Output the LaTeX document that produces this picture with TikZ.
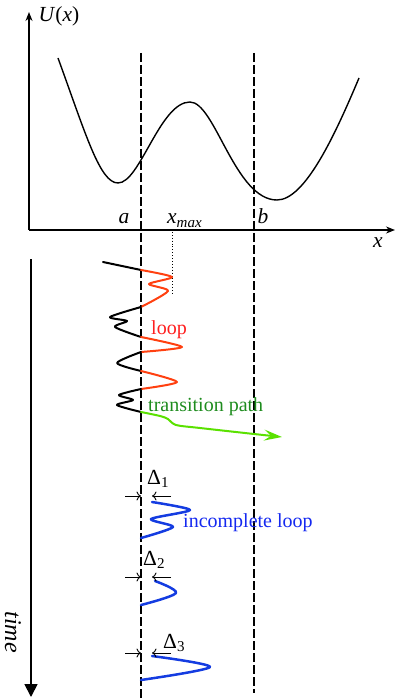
\documentclass[tikz,border=0pt]{standalone}
\usepackage{fontspec}
\setmainfont{Liberation Serif}
\usetikzlibrary{arrows.meta}
\definecolor{redtraj}{RGB}{255,64,16}
\definecolor{looptxt}{RGB}{255,30,30}
\definecolor{greentraj}{RGB}{90,225,0}
\definecolor{greentxt}{RGB}{30,140,30}
\definecolor{bluetraj}{RGB}{20,60,225}
\definecolor{bluetxt}{RGB}{20,40,240}
\begin{document}
\begin{tikzpicture}[x=1pt,y=-1pt,
  lbl/.style={font=\fontsize{20}{22}\selectfont, inner sep=0pt},
  big/.style={font=\fontsize{21.5}{24}\selectfont, inner sep=0pt},
  dashln/.style={line width=1.1pt, dash pattern=on 9pt off 3pt},
  axis/.style={line width=1.4pt, -{Stealth[length=9pt,width=7pt]}},
  pot/.style={line width=1.4pt},
  traj/.style={line width=2pt, line join=round, line cap=round},
  blu/.style={line width=2.5pt, line join=round, line cap=round, bluetraj},
  darr/.style={line width=0.9pt, -{To[length=4.5pt,width=9pt]}}]
\useasboundingbox (0,0) rectangle (396,700);
% axes
\coordinate (O) at (29,230);
\coordinate (ytop) at (29,12);
\coordinate (xend) at (395,230);
\draw[axis] (O) -- (ytop);
\draw[axis] (O) -- (xend);
\node[big] (U) at (59,16) {\textit{U}(\textit{x})};
\node[big] (xl) at (378,243) {\textit{x}};
% dashed lines
\coordinate (a1) at (141,53); \coordinate (a2) at (141,700);
\coordinate (b1) at (254,53); \coordinate (b2) at (254,693);
\draw[dashln] (a1) -- (a2);
\draw[dashln] (b1) -- (b2);
\node[big, anchor=base] (al) at (124,224) {\textit{a}};
\node[big, anchor=base] (bl) at (263,224) {\textit{b}};
\node[big, anchor=base west] (xm) at (167,224) {\textit{x}{\fontsize{15}{15}\selectfont\raisebox{-4pt}{\textit{max}}}};
\coordinate (d1) at (172,232); \coordinate (d2) at (172,293);
\draw[dotted, line width=0.9pt] (d1) -- (d2);
% potential
\draw[pot] (58,58) .. controls (86,135) and (100,183) .. (118,183)
  .. controls (140,183) and (160,102) .. (190,102)
  .. controls (215,102) and (235,200) .. (277,200)
  .. controls (305,200) and (335,135) .. (359,78);
% time arrow
\coordinate (t1) at (31,259); \coordinate (t2) at (31,697);
\draw[line width=1.8pt, -{Triangle[length=13pt,width=13pt]}] (t1) -- (t2);
\node[lbl, rotate=-90, font=\fontsize{24}{26}\selectfont\itshape] (time) at (13,632) {time};
% trajectory
\draw[traj] (103,262) -- (141,270);
\draw[traj, redtraj] plot[smooth, tension=0.45] coordinates {(141,270) (172,277) (149,284) (168,291) (141,307)};
\draw[traj] plot[smooth, tension=0.45] coordinates {(141,307) (110,317) (127,321) (115,327) (141,337)};
\draw[traj, redtraj] plot[smooth, tension=0.45] coordinates {(141,337) (182,347) (141,352)};
\draw[traj] plot[smooth, tension=0.45] coordinates {(141,352) (117,363) (141,371)};
\draw[traj, redtraj] plot[smooth, tension=0.45] coordinates {(141,371) (177,382) (141,389)};
\draw[traj] plot[smooth, tension=0.45] coordinates {(141,389) (119,395) (133,400) (117,405) (141,412)};
\draw[traj, greentraj, -{Stealth[length=18pt,width=11pt,inset=7pt]}] plot[smooth, tension=0.5] coordinates {(141,412) (160,416) (168,419) (176,425) (200,428) (254,434) (282,437)};
\node[lbl, anchor=base west, looptxt] (loop) at (151,334) {loop};
\node[lbl, anchor=base west, greentxt] (tp) at (148,411) {transition path};
% incomplete loops
\draw[blu] plot[smooth, tension=0.45] coordinates {(152,502) (190,510) (151,519) (173,527) (141,538)};
\draw[blu] plot[smooth, tension=0.55] coordinates {(155,581) (176,593) (141,605)};
\draw[blu] plot[smooth, tension=0.5] coordinates {(152,656) (210,667) (141,680)};
\node[lbl, anchor=base west, bluetxt] (il) at (183,527) {incomplete loop};
% Delta arrows
\foreach \i/\y/\lx/\ly in {1/496/147/484, 2/577/143/565, 3/653/163/648} {
  \coordinate (L\i) at (125,\y); \coordinate (La\i) at (141,\y);
  \coordinate (R\i) at (171,\y); \coordinate (Ra\i) at (152,\y);
  \draw[darr] (L\i) -- (La\i);
  \draw[darr] (R\i) -- (Ra\i);
  \node[big, anchor=base west] (D\i) at (\lx,\ly) {Δ\textsubscript{\i}};
}
\end{tikzpicture}
\end{document}
